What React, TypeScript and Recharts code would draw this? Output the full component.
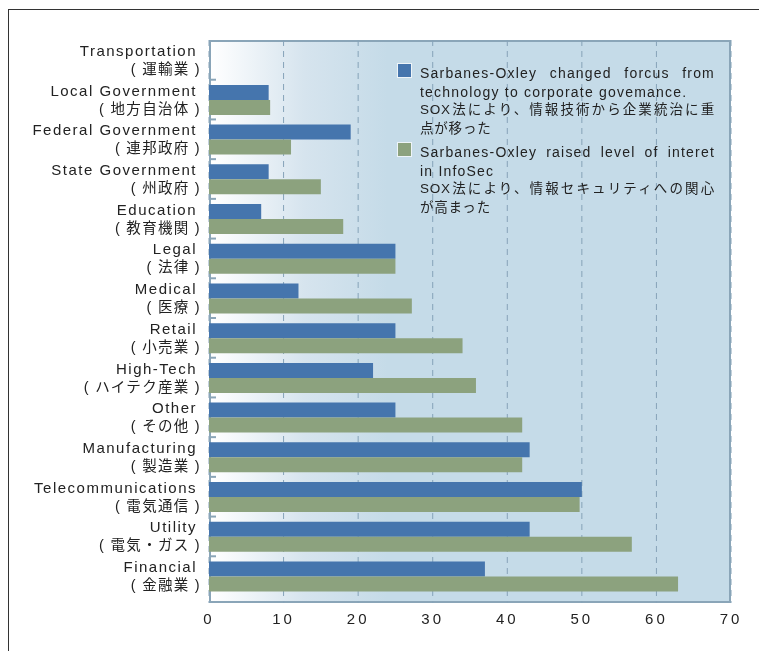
import React from "react"
import { Bar, BarChart, CartesianGrid, XAxis, YAxis } from "recharts"

const categories = [
  "Transportation", "Local Government", "Federal Government", "State Government", "Education",
  "Legal", "Medical", "Retail", "High-Tech", "Other", "Manufacturing", "Telecommunications",
  "Utility", "Financial",
]
const categoriesJa = [
  "( 運輸業 )", "( 地方自治体 )", "( 連邦政府 )", "( 州政府 )", "( 教育機関 )",
  "( 法律 )", "( 医療 )", "( 小売業 )", "( ハイテク産業 )", "( その他 )", "( 製造業 )", "( 電気通信 )",
  "( 電気・ガス )", "( 金融業 )",
]
const governanceValues = [0, 8, 19, 8, 7, 25, 12, 25, 22, 25, 43, 50, 43, 37]
const infoSecValues = [0, 8.2, 11, 15, 18, 25, 27.2, 34, 35.8, 42, 42, 49.7, 56.7, 62.9]
const xTicks = [0, 10, 20, 30, 40, 50, 60, 70]

const legendItems = [
  {
    color: "#4575ad",
    lines: [
      { text: "Sarbanes-Oxley changed forcus from", justify: true, ja: false },
      { text: "technology to corporate govemance.", justify: false, ja: false },
      { text: "SOX法により、情報技術から企業統治に重", justify: true, ja: true },
      { text: "点が移った", justify: false, ja: true },
    ],
  },
  {
    color: "#8ca27e",
    lines: [
      { text: "Sarbanes-Oxley raised level of interet", justify: true, ja: false },
      { text: "in InfoSec", justify: false, ja: false },
      { text: "SOX法により、情報セキュリティへの関心", justify: true, ja: true },
      { text: "が高まった", justify: false, ja: true },
    ],
  },
]

const data = categories.map((name, i) => ({
  name,
  ja: categoriesJa[i],
  governance: governanceValues[i],
  infosec: infoSecValues[i],
}))

const FONT = '"Liberation Sans", Arial, "Noto Sans CJK JP", sans-serif'
const W = 743
const H = 627
const PLOT_LEFT = 201
const PLOT_TOP = 32
const PLOT_W = 522
const PLOT_H = 563
const PAD_BOTTOM = 7
const BORDER = "#8aa5b8"
const halfBand = (PLOT_H - PAD_BOTTOM) / categories.length / 2

function YTick(props: any) {
  const { y, payload, index } = props
  const i = payload.index ?? index
  const row = data[i]
  return (
    <g>
      <text x={PLOT_LEFT - 12} y={y - 4} textAnchor="end" fontSize={15} fill="#222"
        style={{ letterSpacing: 1.5, fontFamily: FONT }}>
        {payload.value}
      </text>
      <text x={PLOT_LEFT - 8} y={y + 14} textAnchor="end" fontSize={14.5} fill="#222"
        style={{ letterSpacing: 1.3, fontFamily: FONT }}>
        {row ? row.ja : ""}
      </text>
      {i < categories.length - 1 && (
        <line x1={PLOT_LEFT} x2={PLOT_LEFT + 7} y1={y + halfBand} y2={y + halfBand} stroke={BORDER} strokeWidth={2} />
      )}
    </g>
  )
}

function XTick(props: any) {
  const { x, y, payload } = props
  return (
    <text x={x} y={y + 13} textAnchor="middle" fontSize={15} fill="#222"
      style={{ letterSpacing: 3, fontFamily: FONT }}>
      {payload.value}
    </text>
  )
}

export default function App() {
  return (
    <div style={{ position: "relative", width: W, height: H, fontFamily: FONT }}>
      <div style={{ position: "fixed", left: 8, top: 9, right: 0, bottom: 0, borderTop: "1.5px solid #333", borderLeft: "1.5px solid #333" }} />
      <div
        style={{
          position: "absolute", left: PLOT_LEFT, top: PLOT_TOP, width: PLOT_W, height: PLOT_H,
          boxSizing: "border-box", border: `2px solid ${BORDER}`,
          background: "linear-gradient(to right, #ffffff 0%, #d6e4ee 18%, #c5dbe8 34%, #c5dbe8 100%)",
        }}
      />
      <BarChart
        width={W}
        height={H}
        data={data}
        layout="vertical"
        margin={{ top: PLOT_TOP, right: W - PLOT_LEFT - PLOT_W, bottom: 0, left: 0 }}
        barCategoryGap="13%"
        barGap={0}
      >
        <CartesianGrid horizontal={false} stroke="#86a3b8" strokeDasharray="6 5" />
        <XAxis type="number" domain={[0, 70]} ticks={xTicks} axisLine={false} tickLine={false}
          height={H - PLOT_TOP - PLOT_H} tick={<XTick />} interval={0} />
        <YAxis type="category" dataKey="name" width={PLOT_LEFT} axisLine={false} tickLine={false}
          interval={0} padding={{ top: 0, bottom: PAD_BOTTOM }} tick={<YTick />} />
        <Bar dataKey="governance" fill="#4575ad" isAnimationActive={false} />
        <Bar dataKey="infosec" fill="#8ca27e" isAnimationActive={false} />
      </BarChart>
      <div style={{ position: "absolute", left: 389, top: 55, color: "#222" }}>
        {legendItems.map((item, i) => (
          <div key={i} style={{ display: "flex", alignItems: "flex-start", marginBottom: 4 }}>
            <div style={{ width: 13, height: 13, background: item.color, border: "1px solid #eef4f8", marginTop: 0 }} />
            <div style={{ width: 295, marginLeft: 8, marginTop: 1 }}>
              {item.lines.map((l, j) => (
                <div key={j} style={{
                  height: 18.5, lineHeight: "18.5px", whiteSpace: "nowrap",
                  fontSize: l.ja ? 13.5 : 14,
                  letterSpacing: l.ja ? 0.8 : 1.2,
                  textAlign: l.justify ? "justify" : "left",
                  textAlignLast: l.justify ? "justify" : "auto",
                } as any}>
                  {l.text}
                </div>
              ))}
            </div>
          </div>
        ))}
      </div>
    </div>
  )
}
